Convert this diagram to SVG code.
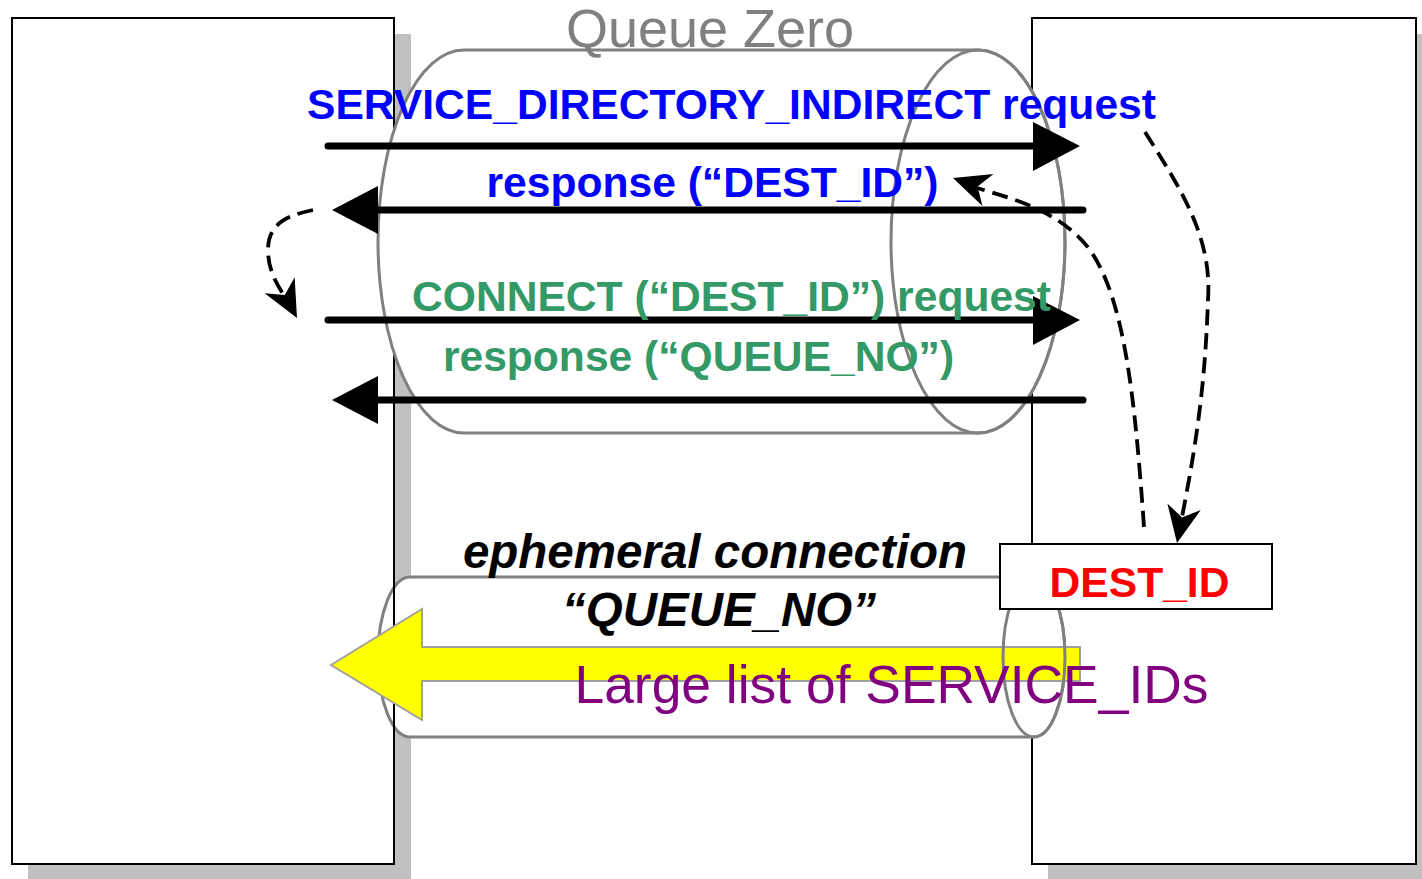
<svg xmlns="http://www.w3.org/2000/svg" xmlns:xlink="http://www.w3.org/1999/xlink" width="1422" height="879" viewBox="0 0 1422 879">
<style>
.shadow{fill:#c0c0c0;stroke:none}
.box{fill:#ffffff;stroke:#000000;stroke-width:2}
.cyl{fill:#ffffff;stroke:#808080;stroke-width:3}
.cylend{fill:none;stroke:#808080;stroke-width:3}
.msg{stroke:#000000;stroke-width:7;stroke-linecap:round;fill:none}
.head{fill:#000000;stroke:none}
.dash{fill:none;stroke:#000000;stroke-width:3.8;stroke-dasharray:16 8}
.b{font-family:"Liberation Sans",Arial,sans-serif;font-weight:bold;font-size:42.6px;text-anchor:middle}
.bi{font-family:"Liberation Sans",Arial,sans-serif;font-weight:bold;font-style:italic;font-size:47.5px;fill:#000000;text-anchor:middle}
.blue{fill:#0000ff}
.green{fill:#339966}
</style>
<defs>
<path id="stealth" d="M0,0 L-37,-17 L-26,0 L-37,17 Z" fill="#000000"/>
</defs>
<rect width="1422" height="879" fill="#ffffff"/>
<g id="host-left">
<rect class="shadow" x="28" y="34" width="383" height="845"/>
<rect class="box" x="12" y="18" width="382" height="846"/>
</g>
<g id="host-right">
<rect class="shadow" x="1048" y="34" width="384" height="845"/>
<rect class="box" x="1032" y="18" width="384" height="846"/>
</g>
<g id="queue-zero">
<path class="cyl" d="M464,50 L978,50 A87,191.5 0 0 1 978,433 L464,433 A86,191.5 0 0 1 464,50 Z"/>
<ellipse class="cylend" cx="978" cy="241.5" rx="87" ry="191.5"/>
<text x="710" y="47" style="font-family:'Liberation Sans',Arial,sans-serif;font-size:54px;fill:#808080;text-anchor:middle">Queue Zero</text>
</g>
<g id="ephemeral-connection">
<path class="cyl" d="M410,577 L1034,577 A31,80 0 0 1 1034,737 L410,737 A32,80 0 0 1 410,577 Z"/>
<line x1="394" y1="577" x2="394" y2="737" stroke="#000000" stroke-width="2"/>
<polygon points="331,665 422,609 422,647 1080,647 1080,681 422,681 422,720" fill="#ffff00" stroke="#a0a0a0" stroke-width="2"/>
<ellipse class="cylend" cx="1034" cy="657" rx="31" ry="80"/>
<text class="bi" x="715" y="568">ephemeral connection</text>
<text class="bi" x="719" y="626">“QUEUE_NO”</text>
</g>
<g id="dest-id">
<rect x="1000" y="544" width="272" height="65" fill="#ffffff" stroke="#000000" stroke-width="2"/>
<text class="b" x="1139.5" y="597" fill="#ff0000">DEST_ID</text>
</g>
<text x="891.5" y="703" style="font-family:'Liberation Sans',Arial,sans-serif;font-size:53.4px;fill:#800080;text-anchor:middle">Large list of SERVICE_IDs</text>
<g id="connectors">
<line class="msg" x1="328" y1="146" x2="1040" y2="146"/>
<polygon class="head" points="1033,122 1080,146 1033,171"/>
<line class="msg" x1="370" y1="210" x2="1083" y2="210"/>
<polygon class="head" points="378,186 332,210 378,234"/>
<line class="msg" x1="328" y1="320" x2="1040" y2="320"/>
<polygon class="head" points="1033,296 1080,320 1033,345"/>
<line class="msg" x1="370" y1="400" x2="1083" y2="400"/>
<polygon class="head" points="378,376 332,400 378,424"/>
<path class="dash" d="M1145,132 C1185,195 1212,240 1208,300 C1205,390 1195,450 1182,517"/>
<use xlink:href="#stealth" href="#stealth" transform="translate(1177,543) rotate(101)"/>
<path class="dash" d="M1144,527 C1135,400 1125,300 1090,250 C1060,210 1010,198 977,188"/>
<use xlink:href="#stealth" href="#stealth" transform="translate(953,178) rotate(199)"/>
<path class="dash" d="M313,210 C290,215 268,222 268,250 C268,268 275,282 285,297"/>
<use xlink:href="#stealth" href="#stealth" transform="translate(297,318) rotate(62)"/>
</g>
<g id="labels">
<text class="b blue" x="731.5" y="119">SERVICE_DIRECTORY_INDIRECT request</text>
<text class="b blue" x="712.5" y="197">response (“DEST_ID”)</text>
<text class="b green" x="731.5" y="311">CONNECT (“DEST_ID”) request</text>
<text class="b green" x="698.5" y="371">response (“QUEUE_NO”)</text>
</g>
</svg>
